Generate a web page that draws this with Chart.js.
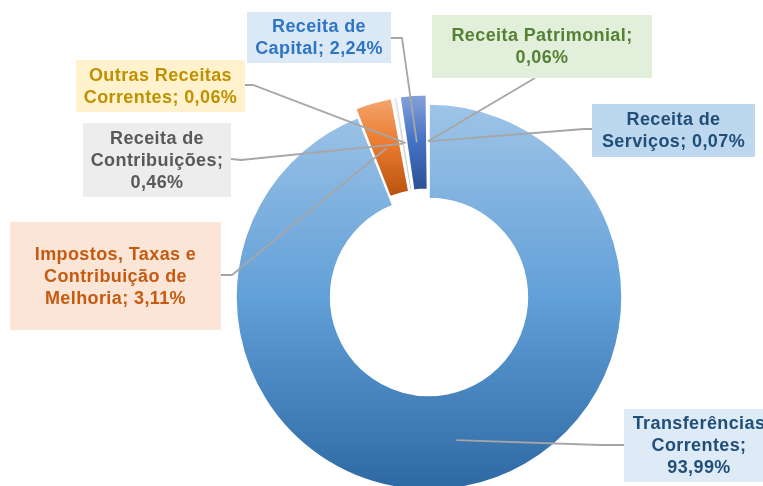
<!DOCTYPE html>
<html lang="pt-BR">
<head>
<meta charset="utf-8">
<script src="https://cdn.jsdelivr.net/npm/chart.js@4.4.1/dist/chart.umd.min.js"></script>
<style>
  html, body { margin: 0; padding: 0; background: #fff; }
  #wrap { position: relative; width: 763px; height: 486px; overflow: hidden; }
</style>
</head>
<body>
<div id="wrap"><canvas id="receitas"></canvas></div>
<script>
// Composição da receita (%), na ordem em que as fatias aparecem (sentido horário a partir do topo)
const categories = [
    'Transferências Correntes',
    'Impostos, Taxas e Contribuição de Melhoria',
    'Receita de Contribuições',
    'Outras Receitas Correntes',
    'Receita de Capital',
    'Receita Patrimonial',
    'Receita de Serviços'
];
const shares = [93.99, 3.11, 0.46, 0.06, 2.24, 0.06, 0.07];

// Degradê de cada fatia: topo, meio, base
const sliceTop    = ['#9ec4e7', '#f5b080', '#f2f2f2', '#ffe699', '#8faadc', '#c5e0b4', '#bdd7ee'];
const sliceMid    = ['#62a0d8', '#ec7c30', '#d9d9d9', '#ffc000', '#4472c4', '#70ad47', '#5b9bd5'];
const sliceBottom = ['#2d68a3', '#b85410', '#bfbfbf', '#bf9000', '#2a4e8e', '#548235', '#2e75b6'];
const sliceOffset = [0, 20, 20, 20, 20, 20, 20];

// Caixas dos rótulos
const labelFill = ['#deebf7', '#fbe5d6', '#ededed', '#fff2cc', '#dbe8f5', '#e2efda', '#bdd7ee'];
const labelInk  = ['#1f4e79', '#c55a11', '#595959', '#bf9000', '#2e75c4', '#548235', '#1f4e79'];
const labelBoxes = [
    { x: 624, y: 409, w: 150, h: 73,  ax: 624, ay: 445, ex: 600, ey: 445 },
    { x: 10,  y: 222, w: 211, h: 108, ax: 221, ay: 275, ex: 232, ey: 275 },
    { x: 83,  y: 123, w: 148, h: 74,  ax: 231, ay: 159, ex: 241, ey: 160 },
    { x: 76,  y: 60,  w: 169, h: 52,  ax: 245, ay: 85,  ex: 253, ey: 85 },
    { x: 247, y: 12,  w: 144, h: 51,  ax: 391, ay: 38,  ex: 402, ey: 38 },
    { x: 432, y: 15,  w: 220, h: 63,  ax: 535, ay: 78,  ex: 535, ey: 78 },
    { x: 592, y: 104, w: 163, h: 53,  ax: 592, ay: 129, ex: 584, ey: 129 }
];

const RING_RADIUS = 193;
const LABEL_FONT = 'bold 18px "Liberation Sans", Arial, sans-serif';

function formatShare(v) {
    return v.toFixed(2).replace('.', ',') + '%';
}

function sliceGradient(context) {
    const chart = context.chart;
    const area = chart.chartArea;
    const i = context.dataIndex;
    if (!area) return sliceMid[i];
    const cy = (area.top + area.bottom) / 2;
    let y0, y1;
    if (i === 0) {
        y0 = cy - RING_RADIUS;
        y1 = cy + RING_RADIUS;
    } else {
        y0 = cy - RING_RADIUS - 12;
        y1 = cy - RING_RADIUS * 0.51 + 2;
    }
    const g = chart.ctx.createLinearGradient(0, y0, 0, y1);
    g.addColorStop(0, sliceTop[i]);
    g.addColorStop(0.5, sliceMid[i]);
    g.addColorStop(1, sliceBottom[i]);
    return g;
}

function wrapWords(ctx, text, maxWidth) {
    const words = text.split(' ');
    const lines = [];
    let line = '';
    words.forEach(w => {
        const test = line ? line + ' ' + w : w;
        if (line && ctx.measureText(test).width > maxWidth) {
            lines.push(line);
            line = w;
        } else {
            line = test;
        }
    });
    if (line) lines.push(line);
    return lines;
}

// Rótulos com linhas de chamada
const calloutPlugin = {
    id: 'callouts',
    afterDatasetsDraw(chart) {
        const ctx = chart.ctx;
        const arcs = chart.getDatasetMeta(0).data;

        ctx.save();
        ctx.strokeStyle = '#a6a6a6';
        ctx.lineWidth = 1.8;
        arcs.forEach((a, i) => {
            const b = labelBoxes[i];
            const mid = (a.startAngle + a.endAngle) / 2;
            const off = (a.options.offset || 0) / 4;
            const fix = 1 - Math.sin(Math.min(Math.PI, a.endAngle - a.startAngle));
            const rr = (a.innerRadius + a.outerRadius) / 2 + off + off * fix;
            const tx = a.x + Math.cos(mid) * rr;
            const ty = a.y + Math.sin(mid) * rr;
            ctx.beginPath();
            ctx.moveTo(b.ax, b.ay);
            ctx.lineTo(b.ex, b.ey);
            ctx.lineTo(tx, ty);
            ctx.stroke();
        });

        ctx.font = LABEL_FONT;
        ctx.letterSpacing = '0.4px';
        ctx.textAlign = 'center';
        ctx.textBaseline = 'middle';
        const lineH = 22;
        arcs.forEach((a, i) => {
            const b = labelBoxes[i];
            ctx.fillStyle = labelFill[i];
            ctx.fillRect(b.x, b.y, b.w, b.h);
            const lines = wrapWords(ctx, categories[i] + '; ' + formatShare(shares[i]), b.w - 4);
            const cx = b.x + b.w / 2;
            const top = b.y + b.h / 2 - (lines.length - 1) * lineH / 2;
            ctx.fillStyle = labelInk[i];
            lines.forEach((l, k) => ctx.fillText(l, cx, top + k * lineH + 1));
        });
        ctx.restore();
    }
};

new Chart(document.getElementById('receitas'), {
    type: 'doughnut',
    data: {
        labels: categories,
        datasets: [{
            data: shares,
            backgroundColor: sliceGradient,
            borderColor: '#ffffff',
            borderWidth: 1.5,
            offset: sliceOffset,
            clip: false
        }]
    },
    options: {
        responsive: true,
        maintainAspectRatio: false,
        animation: false,
        radius: RING_RADIUS,
        cutout: '51%',
        layout: { padding: { left: 95, right: 0, top: 108, bottom: 0 } },
        plugins: {
            legend: { display: false },
            tooltip: { enabled: false }
        }
    },
    plugins: [calloutPlugin]
});
</script>
</body>
</html>
